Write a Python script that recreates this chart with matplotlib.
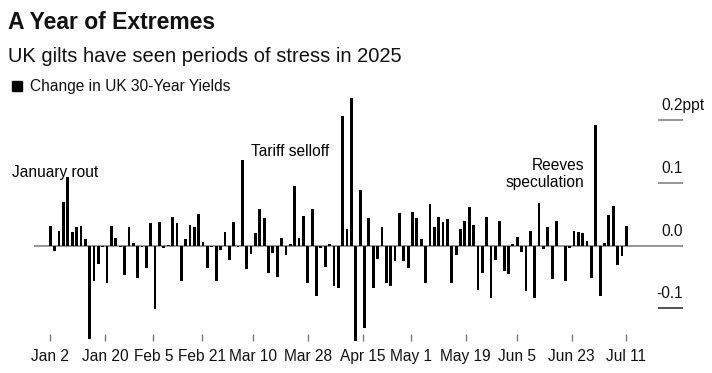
import numpy as np
import pandas as pd
import matplotlib
matplotlib.use('Agg')
import matplotlib.pyplot as plt

plt.rcParams['font.family'] = ['Liberation Sans', 'DejaVu Sans']

# daily change in UK 30y gilt yield, ppt, Jan 2 - Jul 11 2025
changes = [
    0.031, -0.009, 0.023, 0.069, 0.109, 0.022, 0.030, 0.032, 0.011, -0.149,
    -0.056, -0.029, -0.003, -0.059, 0.031, 0.012, -0.002, -0.047, 0.030, 0.004,
    -0.051, -0.002, -0.036, 0.036, -0.101, 0.038, -0.004, 0.001, 0.045, 0.036,
    -0.057, 0.011, 0.033, 0.029, 0.051, 0.006, -0.035, -0.003, -0.057, -0.007,
    0.022, -0.023, 0.037, -0.002, 0.136, -0.037, -0.013, 0.020, 0.059, 0.044,
    -0.044, -0.011, -0.050, 0.012, -0.015, 0.003, 0.095, 0.012, 0.047, -0.060,
    0.059, -0.080, -0.004, -0.034, 0.002, -0.065, -0.067, 0.207, 0.026, 0.235,
    -0.152, 0.088, -0.131, 0.044, -0.067, -0.021, 0.030, -0.059, -0.064, -0.024,
    0.052, -0.024, -0.036, 0.053, 0.044, 0.010, -0.060, 0.066, 0.029, 0.045,
    0.037, 0.043, -0.059, -0.015, 0.026, 0.039, 0.061, 0.033, -0.071, -0.044,
    0.045, -0.083, -0.023, 0.039, -0.041, -0.045, 0.002, 0.014, -0.010, -0.073,
    0.023, -0.083, 0.068, -0.005, 0.029, -0.053, 0.040, 0.000, -0.057, -0.004,
    0.024, 0.022, 0.020, 0.007, -0.051, 0.192, -0.080, 0.004, 0.048, 0.063,
    -0.031, -0.016, 0.031,
]
first_day = '2025-01-02'
last_day = '2025-07-11'
tick_labels = ['Jan 2', 'Jan 20', 'Feb 5', 'Feb 21', 'Mar 10', 'Mar 28',
               'Apr 15', 'May 1', 'May 19', 'Jun 5', 'Jun 23', 'Jul 11']
y_ticks = [0.2, 0.1, 0.0, -0.1]
y_labels = ['0.2ppt', '0.1', '0.0', '-0.1']

t0 = pd.Timestamp(first_day)
span = (pd.Timestamp(last_day) - t0).days
# bars sit evenly across the period, date ticks on a calendar scale
x = np.linspace(0, span, len(changes))
tick_x = [(pd.Timestamp(lab + ' 2025') - t0).days for lab in tick_labels]

fig = plt.figure(figsize=(7.12, 3.73), dpi=100)
ax = fig.add_axes([34 / 712, 32 / 373, 649 / 712, 246 / 373])

ax.bar(x, changes, width=0.64 * span / (len(changes) - 1), color='black', zorder=3)
ax.axhline(0, color='#7a7a7a', lw=1.1, zorder=2)

xmax = 208.7
ax.set_xlim(-5.4, xmax)
ax.set_ylim(-0.152, 0.240)

# short gridline stubs + labels on the right
for v, lab in zip(y_ticks, y_labels):
    col = '#222222' if v < 0 else '#7a7a7a'
    if v != 0:
        ax.hlines(v, 200.5, xmax, color=col, lw=1.1, zorder=2)
    if lab.endswith('ppt'):
        # number right-aligned with the others, unit hangs past the edge
        ax.annotate(lab, (xmax, v), xytext=(-15.6, 7.2), textcoords='offset points',
                    ha='left', va='baseline', fontsize=11.2, color='#111111',
                    annotation_clip=False)
    else:
        ax.annotate(lab, (xmax, v), xytext=(0, 7.2), textcoords='offset points',
                    ha='right', va='baseline', fontsize=11.2, color='#111111')

ax.set_xticks(tick_x)
ax.set_xticklabels(tick_labels)
ax.set_yticks([])
ax.tick_params(axis='x', direction='in', length=5, width=1, color='#777777',
               pad=6, labelsize=11.2, labelcolor='#111111')
for s in ax.spines.values():
    s.set_visible(False)

# annotations
ax.text(-12.5, 0.1096, 'January rout', fontsize=11.2, ha='left', va='baseline')
ax.text(66.2, 0.143, 'Tariff selloff', fontsize=11.2, ha='left', va='baseline')
ax.text(176.0, 0.120, 'Reeves', fontsize=11.2, ha='right', va='baseline')
ax.text(176.0, 0.0936, 'speculation', fontsize=11.2, ha='right', va='baseline')

# header
fig.text(8 / 712, 1 - 29 / 373, 'A Year of Extremes', fontsize=16.5,
         fontweight='bold', va='baseline', color='#111111')
fig.text(8 / 712, 1 - 62 / 373, 'UK gilts have seen periods of stress in 2025',
         fontsize=14.5, va='baseline', color='#111111')
fig.patches.append(plt.Rectangle((12 / 712, 1 - 91 / 373), 10 / 712, 10 / 373,
                                 transform=fig.transFigure, color='black'))
fig.text(30 / 712, 1 - 91 / 373, 'Change in UK 30-Year Yields', fontsize=11.2,
         va='baseline', color='#111111')

fig.savefig('out.png', dpi=100)
